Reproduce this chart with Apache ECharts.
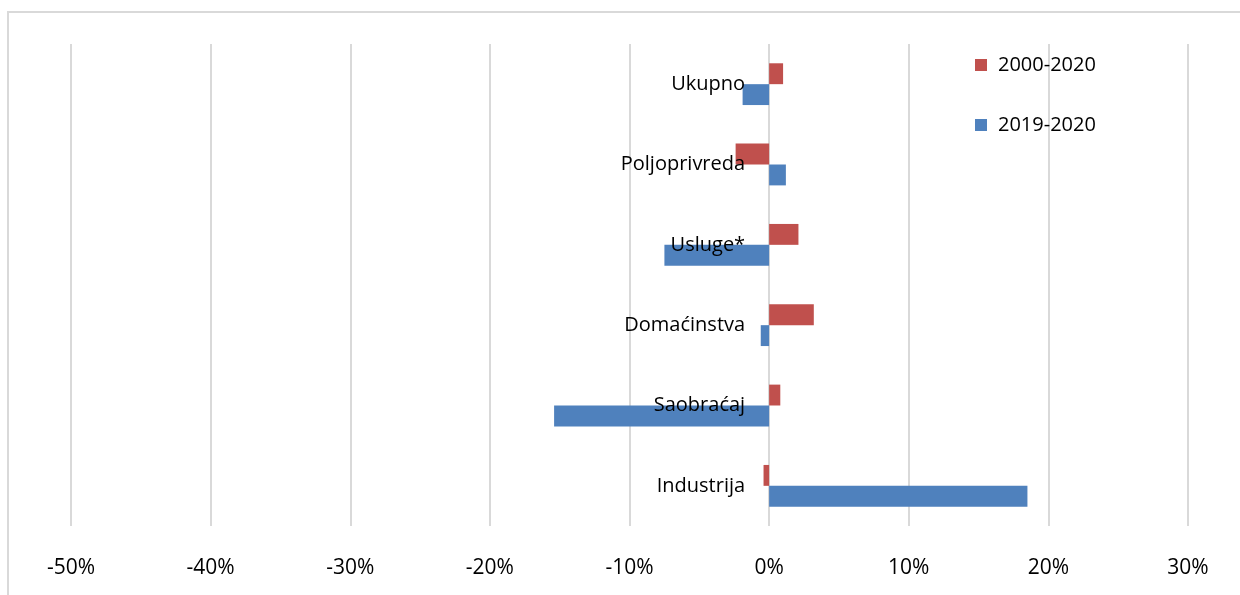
<!DOCTYPE html>
<html lang="en">
<head>
    <meta charset="UTF-8">
    <title></title>
    <style>
        html, body { margin: 0; padding: 0; background: #fff; }
        #chart { width: 1240px; height: 595px; }
    </style>
</head>
<body>
    <div id="chart"></div>
    <script src="https://cdn.jsdelivr.net/npm/echarts@6/dist/echarts.min.js"></script>
    <script>
        // kategorije odozdo prema gore
        var categories = ['Industrija', 'Saobraćaj', 'Domaćinstva', 'Usluge*', 'Poljoprivreda', 'Ukupno'];
        var legendNames = ['2000-2020', '2019-2020'];
        var vals20002020 = [-0.4, 0.8, 3.2, 2.1, -2.4, 1.0];
        var vals20192020 = [18.5, -15.4, -0.6, -7.5, 1.2, -1.9];
        var xTicks = { min: -50, max: 30, interval: 10 };

        var font = 'Open Sans';
        var gridLeft = 71, gridRight = 52;
        var chart = echarts.init(document.getElementById('chart'));

        // os kategorija stoji na nuli (kao u Excelu)
        var plotW = 1240 - gridLeft - gridRight;
        var zeroOffset = -plotW * (0 - xTicks.min) / (xTicks.max - xTicks.min);

        var option = {
            animation: false,
            backgroundColor: '#fff',
            textStyle: { fontFamily: font },
            graphic: [{
                type: 'rect',
                shape: { x: 8, y: 12, width: 1250, height: 600 },
                style: { fill: 'none', stroke: '#d9d9d9', lineWidth: 2 },
                silent: true
            }],
            grid: {
                left: gridLeft, right: gridRight, top: 44, bottom: 69,
                containLabel: false,
                outerBoundsMode: 'none'
            },
            legend: {
                data: legendNames,
                orient: 'vertical',
                left: 970,
                top: 50,
                itemGap: 40,
                itemWidth: 12,
                itemHeight: 12,
                icon: 'rect',
                textStyle: { fontFamily: font, fontSize: 20, color: '#000', padding: [0, 0, 0, 6] }
            },
            xAxis: {
                type: 'value',
                min: xTicks.min,
                max: xTicks.max,
                interval: xTicks.interval,
                axisLine: { show: false },
                axisTick: { show: false },
                axisLabel: {
                    formatter: '{value}%',
                    margin: 32,
                    fontSize: 21,
                    color: '#000',
                    fontFamily: font
                },
                splitLine: { lineStyle: { color: '#d9d9d9', width: 2 } }
            },
            yAxis: {
                type: 'category',
                data: categories,
                offset: zeroOffset,
                z: 10,
                axisLine: { show: false },
                axisTick: { show: false },
                axisLabel: {
                    margin: 24,
                    fontSize: 20,
                    color: '#000',
                    fontFamily: font
                }
            },
            series: [
                {
                    name: '2000-2020',
                    type: 'bar',
                    data: vals20002020,
                    barGap: '0%',
                    barCategoryGap: '48%',
                    itemStyle: { color: '#c0504d' }
                },
                {
                    name: '2019-2020',
                    type: 'bar',
                    data: vals20192020,
                    barGap: '0%',
                    barCategoryGap: '48%',
                    itemStyle: { color: '#4f81bd' }
                }
            ]
        };
        chart.setOption(option);
    </script>
</body>
</html>
